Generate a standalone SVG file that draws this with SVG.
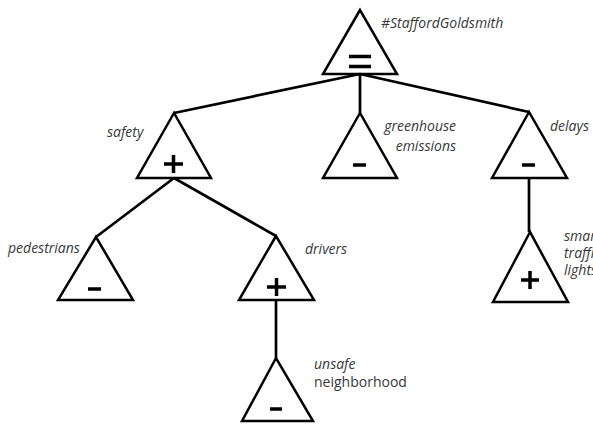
<svg xmlns="http://www.w3.org/2000/svg" width="593" height="424" viewBox="0 0 593 424">
<style>
.tri{fill:none;stroke:#000;stroke-width:2.5;stroke-linejoin:miter}
.sym{stroke:#000;stroke-width:3.5;fill:none}
.con{stroke:#000;stroke-width:2.7;fill:none}
.lbl{font-family:"Open Sans","DejaVu Sans",sans-serif;font-size:14px;fill:#383838;font-style:italic}
.up{font-style:normal}
</style>
<rect width="593" height="424" fill="#fff"/>
<g id="connectors">
<path class="con" d="M360,74 L174,113 M360,74 L360,113 M360,74 L529,112"/>
<path class="con" d="M174,178 L96,237 M174,178 L276,236"/>
<path class="con" d="M529,178 L529,232"/>
<path class="con" d="M276,300 L276,358"/>
</g>
<g id="root">
<polygon class="tri" points="360,10 323,74 397,74"/>
<path class="sym" d="M349,56.5 H371 M349,66.5 H371"/>
<text class="lbl" x="381" y="28">#StaffordGoldsmith</text>
</g>
<g id="safety">
<polygon class="tri" points="174,113 137,178 211,178"/>
<path class="sym" d="M164,164 H183 M173.5,155 V173"/>
<text class="lbl" x="107" y="137">safety</text>
</g>
<g id="greenhouse">
<polygon class="tri" points="360,113 323,178 397,178"/>
<path class="sym" d="M353,165 H366"/>
<text class="lbl" x="456" y="131" text-anchor="end">greenhouse</text>
<text class="lbl" x="456" y="151" text-anchor="end">emissions</text>
</g>
<g id="delays">
<polygon class="tri" points="529,112 492,178 567,178"/>
<path class="sym" d="M522,165 H535"/>
<text class="lbl" x="550" y="131">delays</text>
</g>
<g id="smart">
<polygon class="tri" points="530,232 493,302 568,302"/>
<path class="sym" d="M521,280 H539 M530,271 V289"/>
<text class="lbl" x="564" y="241">smart</text>
<text class="lbl" x="564" y="258">traffic</text>
<text class="lbl" x="564" y="275">lights</text>
</g>
<g id="pedestrians">
<polygon class="tri" points="96,237 58,300 133,300"/>
<path class="sym" d="M88,289 H101"/>
<text class="lbl" x="8" y="253">pedestrians</text>
</g>
<g id="drivers">
<polygon class="tri" points="276,236 239,300 314,300"/>
<path class="sym" d="M267,287 H286 M276.5,278 V296"/>
<text class="lbl" x="305" y="254">drivers</text>
</g>
<g id="unsafe">
<polygon class="tri" points="276,358 242,421 313,421"/>
<path class="sym" d="M270,409 H282"/>
<text class="lbl" x="314" y="369">unsafe</text>
<text class="lbl up" x="314" y="387">neighborhood</text>
</g>
</svg>
